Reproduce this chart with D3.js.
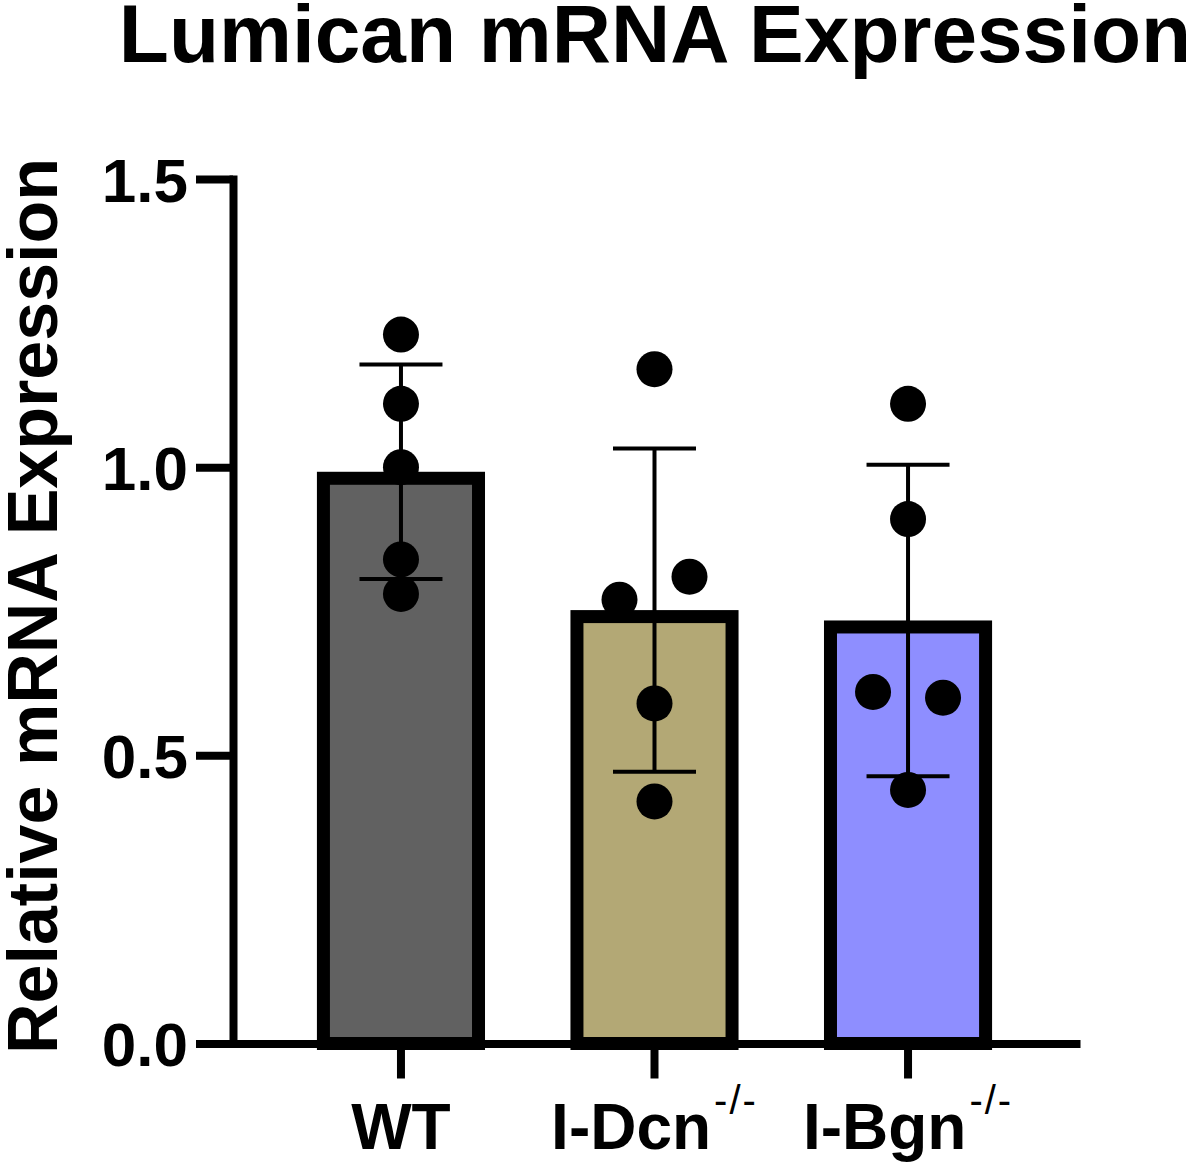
<!DOCTYPE html>
<html>
<head>
<meta charset="utf-8">
<script src="https://cdn.jsdelivr.net/npm/d3@7"></script>
<style>
    body { margin: 0; background: #fff; }
    text { font-family: "Liberation Sans", Arial, sans-serif; }
</style>
</head>
<body>
<div class="svg-target"></div>
<script>
// data
const groups = ['WT', 'I-Dcn', 'I-Bgn'];
const superscripts = ['', '-/-', '-/-'];
const colors = ['#616161', '#b3a875', '#8e8eff'];
const wtValues = [1.23, 1.11, 1.00, 0.84, 0.78];
const dcnValues = [1.17, 0.81, 0.77, 0.59, 0.42];
const bgnValues = [1.11, 0.91, 0.61, 0.60, 0.44];
// column of each dot in the scatter (-1 left, 0 middle, 1 right)
const wtColumns = [0, 0, 0, 0, 0];
const dcnColumns = [0, 1, -1, 0, 0];
const bgnColumns = [0, 0, -1, 1, 0];
const yTicks = [0, 0.5, 1.0, 1.5];

const values = [wtValues, dcnValues, bgnValues];
const columns = [wtColumns, dcnColumns, bgnColumns];

const w = 1200;
const h = 1164;
const font = '"Liberation Sans", Arial, sans-serif';

const drawGraph = () => {
    const svg = d3.select('.svg-target')
        .html('')
        .append('svg')
        .attr('width', w)
        .attr('height', h)
        .style('display', 'block');

    const xScale = d3.scaleBand()
        .domain(groups)
        .range([233, 1076])
        .paddingInner(0.337)
        .paddingOuter(0.331);

    const yScale = d3.scaleLinear()
        .domain([0, 1.5])
        .range([1043.5, 179]);

    const stats = groups.map((g, i) => ({
        group: g,
        color: colors[i],
        mean: d3.mean(values[i]),
        sd: d3.deviation(values[i])
    }));

    // bars
    const barStroke = 13;
    svg.append('g')
        .selectAll('rect')
        .data(stats)
        .enter()
        .append('rect')
            .attr('x', d => xScale(d.group) + barStroke / 2)
            .attr('y', d => yScale(d.mean) + barStroke / 2)
            .attr('width', xScale.bandwidth() - barStroke)
            .attr('height', d => yScale(0) - yScale(d.mean) - barStroke / 2)
            .attr('fill', d => d.color)
            .attr('stroke', '#000')
            .attr('stroke-width', barStroke);

    // error bars (mean +/- SD)
    const capHalf = 41.5;
    const err = svg.append('g')
        .attr('stroke', '#000')
        .attr('stroke-width', 4);
    stats.forEach(d => {
        const cx = xScale(d.group) + xScale.bandwidth() / 2;
        err.append('line')
            .attr('x1', cx).attr('x2', cx)
            .attr('y1', yScale(d.mean + d.sd))
            .attr('y2', yScale(d.mean - d.sd));
        [d.mean + d.sd, d.mean - d.sd].forEach(v => {
            err.append('line')
                .attr('x1', cx - capHalf).attr('x2', cx + capHalf)
                .attr('y1', yScale(v)).attr('y2', yScale(v));
        });
    });

    // dots
    const dotSpacing = 35;
    const dots = groups.flatMap((g, i) => values[i].map((v, j) => ({
        group: g, value: v, column: columns[i][j]
    })));
    svg.append('g')
        .selectAll('circle')
        .data(dots)
        .enter()
        .append('circle')
            .attr('cx', d => xScale(d.group) + xScale.bandwidth() / 2 + d.column * dotSpacing)
            .attr('cy', d => yScale(d.value))
            .attr('r', 18)
            .attr('fill', '#000');

    // y axis
    const yAxis = d3.axisLeft(yScale)
        .tickValues(yTicks)
        .tickFormat(d3.format('.1f'))
        .tickSize(37)
        .tickSizeOuter(0)
        .tickPadding(8);

    const gy = svg.append('g')
        .attr('transform', 'translate(233, 0)')
        .call(yAxis);
    gy.select('.domain')
        .attr('stroke-width', 8)
        .attr('stroke-linecap', 'square');
    gy.selectAll('.tick line').attr('stroke-width', 8);
    gy.selectAll('.tick text')
        .attr('font-family', font)
        .attr('font-size', 62)
        .attr('font-weight', 'bold')
        .attr('fill', '#000')
        .attr('dy', '0.36em');

    // x axis
    const xAxis = d3.axisBottom(xScale)
        .tickSize(35)
        .tickSizeOuter(0)
        .tickFormat('');

    const gx = svg.append('g')
        .attr('transform', `translate(0, ${yScale(0)})`)
        .call(xAxis);
    gx.select('.domain')
        .attr('stroke-width', 8)
        .attr('stroke-linecap', 'square');
    gx.selectAll('.tick line').attr('stroke-width', 8);

    // x labels with superscripts
    const labels = svg.append('g')
        .selectAll('text')
        .data(groups)
        .enter()
        .append('text')
            .attr('x', d => xScale(d) + xScale.bandwidth() / 2)
            .attr('y', 1149)
            .attr('text-anchor', 'middle')
            .attr('font-family', font)
            .attr('font-size', 64)
            .attr('font-weight', 'bold');
    labels.append('tspan').text(d => d);
    labels.append('tspan')
        .attr('dy', -35)
        .attr('dx', 3)
        .attr('font-size', 40)
        .attr('font-weight', 'normal')
        .attr('letter-spacing', 2)
        .text((d, i) => superscripts[i]);

    // y title
    svg.append('text')
        .attr('transform', 'translate(57, 606) rotate(-90)')
        .attr('text-anchor', 'middle')
        .attr('font-family', font)
        .attr('font-size', 70)
        .attr('font-weight', 'bold')
        .text('Relative mRNA Expression');

    // title
    svg.append('text')
        .attr('x', 655)
        .attr('y', 62)
        .attr('text-anchor', 'middle')
        .attr('font-family', font)
        .attr('font-size', 82)
        .attr('font-weight', 'bold')
        .text('Lumican mRNA Expression');
};

drawGraph();
</script>
</body>
</html>
